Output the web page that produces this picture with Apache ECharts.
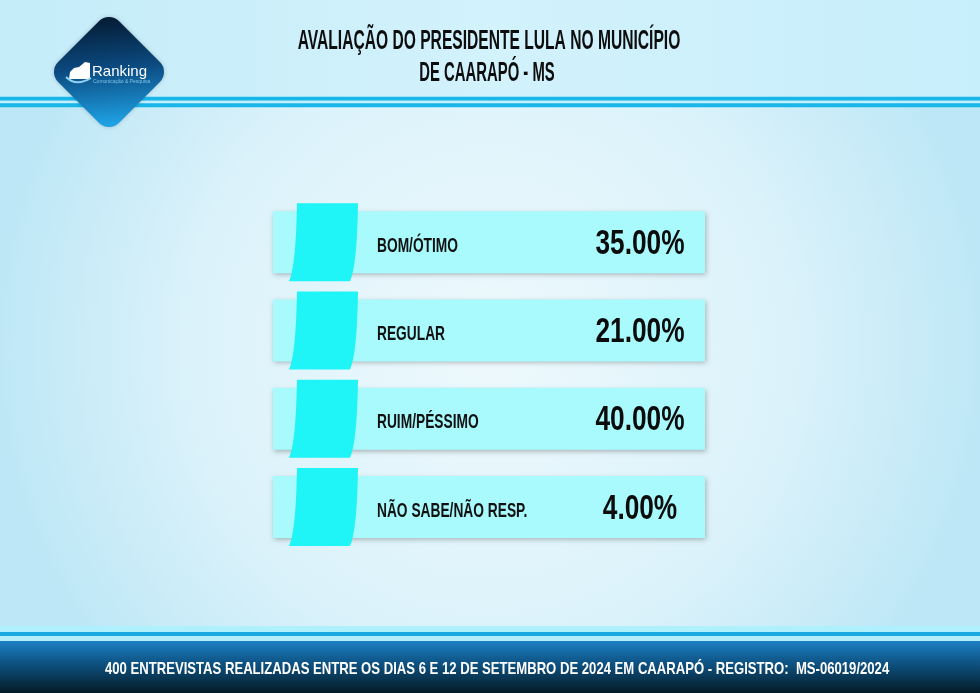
<!DOCTYPE html>
<html><head><meta charset="utf-8">
<script src="https://cdn.jsdelivr.net/npm/echarts@6/dist/echarts.min.js"></script>
<style>html,body{margin:0;padding:0;background:#fff;}#c{width:980px;height:693px;}</style>
</head><body><div id="c"></div>
<script>
const categories = ['BOM/ÓTIMO', 'REGULAR', 'RUIM/PÉSSIMO', 'NÃO SABE/NÃO RESP.'];
const values = [35.00, 21.00, 40.00, 4.00];
const titleLines = ['AVALIAÇÃO DO PRESIDENTE LULA NO MUNICÍPIO', 'DE CAARAPÓ - MS'];
const footerText = '400 ENTREVISTAS REALIZADAS ENTRE OS DIAS 6 E 12 DE SETEMBRO DE 2024 EM CAARAPÓ - REGISTRO:  MS-06019/2024';
const brand = 'Ranking';
const brandSub = 'Comunicação & Pesquisa';

const NARROW = '"Liberation Sans Narrow", "Liberation Sans", sans-serif';
const SANS = '"Liberation Sans", Arial, sans-serif';
const chart = echarts.init(document.getElementById('c'), null, {renderer: 'canvas'});

function renderRow(params, api) {
  const val = api.value(0);
  const idx = api.value(1);
  const a = api.coord([0, idx]);
  const b = api.coord([100, idx]);
  const x0 = a[0], cy = a[1], w = b[0] - a[0];
  const sq = 'M' + (x0 + 24) + ' ' + (cy - 39) +
    ' L' + (x0 + 85) + ' ' + (cy - 39) +
    ' Q' + (x0 + 84) + ' ' + (cy + 24) + ' ' + (x0 + 77) + ' ' + (cy + 39) +
    ' L' + (x0 + 16) + ' ' + (cy + 39) +
    ' Q' + (x0 + 23) + ' ' + (cy + 24) + ' ' + (x0 + 24) + ' ' + (cy - 39) + ' Z';
  return {
    type: 'group',
    children: [
      {type: 'rect', shape: {x: x0, y: cy - 31, width: w, height: 62},
       style: {fill: '#a9fafc', shadowBlur: 5, shadowOffsetX: 1, shadowOffsetY: 2, shadowColor: 'rgba(0,0,0,0.28)'}},
      {type: 'path', shape: {pathData: sq}, style: {fill: '#1ff4f7'}},
      {type: 'text', x: x0 + 104, y: cy + 4, scaleX: 0.655,
       style: {text: categories[idx], font: 'bold 21px ' + NARROW, fill: '#111', align: 'left', verticalAlign: 'middle'}},
      {type: 'text', x: x0 + 367, y: cy + 2, scaleX: 0.75,
       style: {text: val.toFixed(2) + '%', font: 'bold 35px ' + NARROW, fill: '#0c0c0c', align: 'center', verticalAlign: 'middle'}}
    ]
  };
}

const option = {
  animation: false,
  grid: {left: 273, right: 275, top: 198, height: 353},
  xAxis: {type: 'value', min: 0, max: 100, show: false},
  yAxis: {type: 'category', data: categories, inverse: true, show: false},
  series: [{
    type: 'custom',
    renderItem: renderRow,
    encode: {x: 0, y: 1},
    data: values.map((v, i) => [v, i]),
    z: 5
  }],
  graphic: [
    {type: 'rect', z: -10, shape: {x: 0, y: 0, width: 980, height: 693},
     style: {fill: new echarts.graphic.RadialGradient(0.5, 0.5, 0.72, [
       {offset: 0, color: '#eef9fd'}, {offset: 0.6, color: '#dbf2fa'}, {offset: 1, color: '#bde7f6'}])}},
    {type: 'rect', z: -5, shape: {x: 0, y: 0, width: 980, height: 97},
     style: {fill: new echarts.graphic.LinearGradient(0, 0, 1, 0, [
       {offset: 0, color: '#c4ecf9'}, {offset: 0.5, color: '#d2f2fc'}, {offset: 1, color: '#c7eefb'}])}},
    {type: 'rect', z: -4, shape: {x: 0, y: 96.7, width: 980, height: 4}, style: {fill: '#19b6ea'}},
    {type: 'rect', z: -4, shape: {x: 0, y: 100.7, width: 980, height: 2.6}, style: {fill: '#c2effc'}},
    {type: 'rect', z: -4, shape: {x: 0, y: 103.3, width: 980, height: 4}, style: {fill: '#19b6ea'}},
    {type: 'rect', z: -4, shape: {x: 0, y: 626, width: 980, height: 6}, style: {fill: '#aef1fd'}},
    {type: 'rect', z: -4, shape: {x: 0, y: 632, width: 980, height: 4}, style: {fill: '#17a9e0'}},
    {type: 'rect', z: -4, shape: {x: 0, y: 636, width: 980, height: 5}, style: {fill: '#b5eefb'}},
    {type: 'rect', z: -4, shape: {x: 0, y: 641, width: 980, height: 52},
     style: {fill: new echarts.graphic.LinearGradient(0, 0, 0, 1, [
       {offset: 0, color: '#1c80c4'}, {offset: 0.4, color: '#0f5587'}, {offset: 1, color: '#041b25'}])}},
    {type: 'text', z: 10, x: 105, y: 669, scaleX: 0.771,
     style: {text: footerText, font: 'bold 17px ' + SANS, fill: '#ffffff', align: 'left', verticalAlign: 'middle'}},
    {type: 'text', z: 10, x: 489, y: 42, scaleX: 0.578,
     style: {text: titleLines[0], font: 'bold 27px ' + NARROW, fill: '#0d0d0d', align: 'center', verticalAlign: 'middle'}},
    {type: 'text', z: 10, x: 487, y: 73.5, scaleX: 0.55,
     style: {text: titleLines[1], font: 'bold 27px ' + NARROW, fill: '#0d0d0d', align: 'center', verticalAlign: 'middle'}},
    {type: 'rect', z: 8, x: 109, y: 72, rotation: Math.PI / 4,
     shape: {x: -43, y: -43, width: 86, height: 86, r: 14},
     style: {fill: new echarts.graphic.LinearGradient(1, 0, 0.15, 1, [
       {offset: 0, color: '#04162b'}, {offset: 0.5, color: '#0b4a80'}, {offset: 1, color: '#1fa2e4'}]),
       shadowBlur: 4, shadowColor: 'rgba(0,0,0,0.2)'}},
    {type: 'polygon', z: 9, shape: {points: [[69, 79], [70, 72], [74, 68], [79, 67], [85, 62], [90, 63], [90, 79]]}, style: {fill: '#ffffff'}},
    {type: 'bezierCurve', z: 9, shape: {x1: 66, y1: 77, cpx1: 76, cpy1: 87, x2: 91, y2: 78}, style: {fill: null, stroke: '#8fd3f3', lineWidth: 2}},
    {type: 'text', z: 9, x: 92, y: 72,
     style: {text: brand, font: '15px ' + NARROW, fill: '#ffffff', align: 'left', verticalAlign: 'middle'}},
    {type: 'text', z: 9, x: 93, y: 82,
     style: {text: brandSub, font: '5px ' + SANS, fill: '#7fc3e6', align: 'left', verticalAlign: 'middle'}}
  ]
};
chart.setOption(option);
</script></body></html>
